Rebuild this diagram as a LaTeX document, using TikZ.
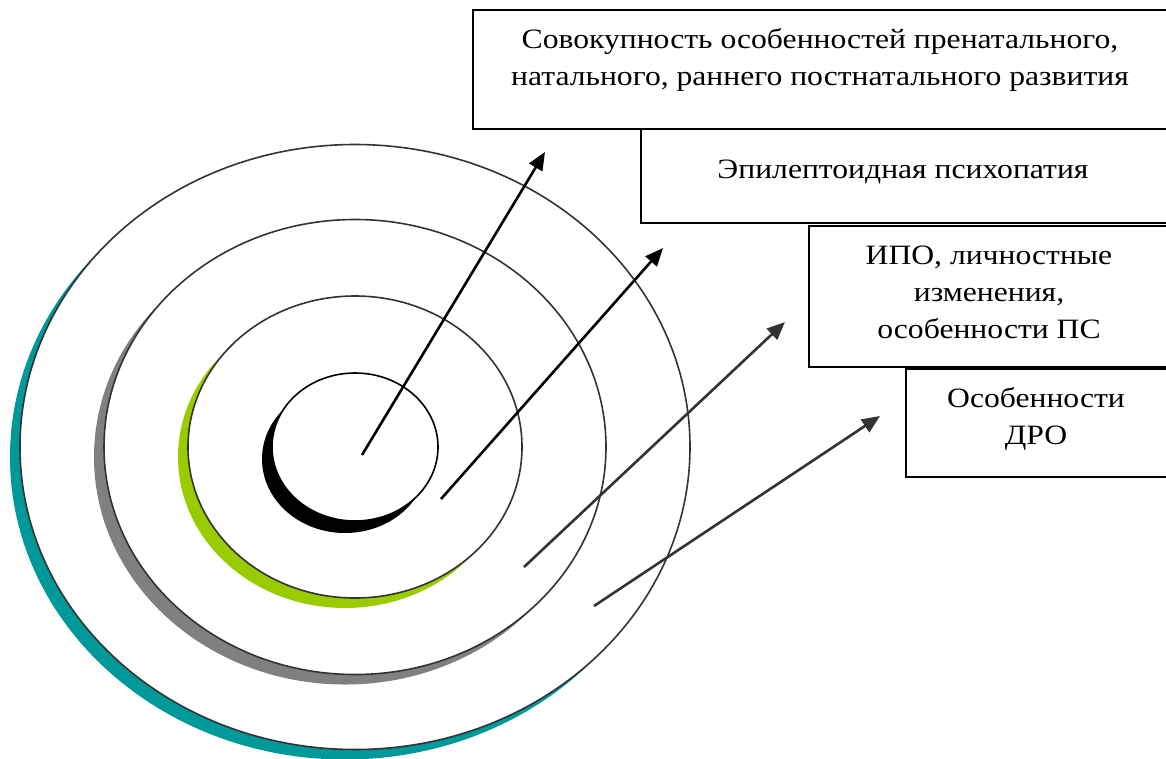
\documentclass[tikz,border=0pt]{standalone}
\usepackage{fontspec}
\setmainfont{Liberation Serif}[FakeStretch=1.13]
\usepackage{tikz}
\usetikzlibrary{arrows.meta}
\definecolor{tealshadow}{RGB}{0,153,153}
\definecolor{grayshadow}{RGB}{128,128,128}
\definecolor{greenshadow}{RGB}{153,204,0}
\definecolor{ringline}{RGB}{51,51,51}
\tikzstyle{frame} = [rectangle, draw=black, line width=2.4pt, anchor=north west, inner sep=0pt]
\tikzstyle{label} = [align=center, font=\fontsize{28}{37}\selectfont]
\tikzstyle{ring} = [fill=white, draw=ringline, line width=1.6pt]
\tikzstyle{arrow} = [line width=2.6pt, -{Triangle[length=18pt,width=15pt]}]

\begin{document}
\begin{tikzpicture}[x=1pt, y=-1pt]
\useasboundingbox (0,0) rectangle (1166,758);
% rings with shadows
\fill [tealshadow] (345,457) ellipse [x radius=335, y radius=302.5];
\draw [ring] (355,447) ellipse [x radius=335, y radius=302.5];
\fill [grayshadow] (345,457) ellipse [x radius=251, y radius=227.5];
\draw [ring] (355,447) ellipse [x radius=251, y radius=227.5];
\fill [greenshadow] (345,457) ellipse [x radius=167, y radius=151];
\draw [ring] (355,447) ellipse [x radius=167, y radius=151];
\fill [black] (345,459) ellipse [x radius=83, y radius=74];
\draw [ring, draw=black] (355,447) ellipse [x radius=83, y radius=74];
% boxes
\node (box1) [frame, minimum width=700, minimum height=119] at (472,9) {};
\node (box2) [frame, minimum width=532, minimum height=94] at (640,128) {};
\node (box3) [frame, minimum width=364, minimum height=141] at (808,225) {};
\node (box4) [frame, minimum width=267, minimum height=108] at (905,368) {};
\node (txt1) [label, anchor=center] at (820,60) {Совокупность особенностей пренатального,\\натального, раннего постнатального развития};
\node (txt2) [label, anchor=center] at (903,172) {Эпилептоидная психопатия};
\node (txt3) [label, anchor=center] at (989,292) {ИПО, личностные\\изменения,\\особенности ПС};
\node (txt4) [label, anchor=center] at (1036,419) {Особенности\\ДРО};
% arrow ends
\coordinate (s1) at (362,455);
\coordinate (s2) at (441,499);
\coordinate (s3) at (524,567);
\coordinate (s4) at (594,606);
\coordinate (e1) at (545,152);
\coordinate (e2) at (663,248);
\coordinate (e3) at (785,322);
\coordinate (e4) at (880,416);
\draw [arrow] (s1) -- (e1);
\draw [arrow] (s2) -- (e2);
\draw [arrow, ringline] (s3) -- (e3);
\draw [arrow, ringline] (s4) -- (e4);
\end{tikzpicture}
\end{document}
